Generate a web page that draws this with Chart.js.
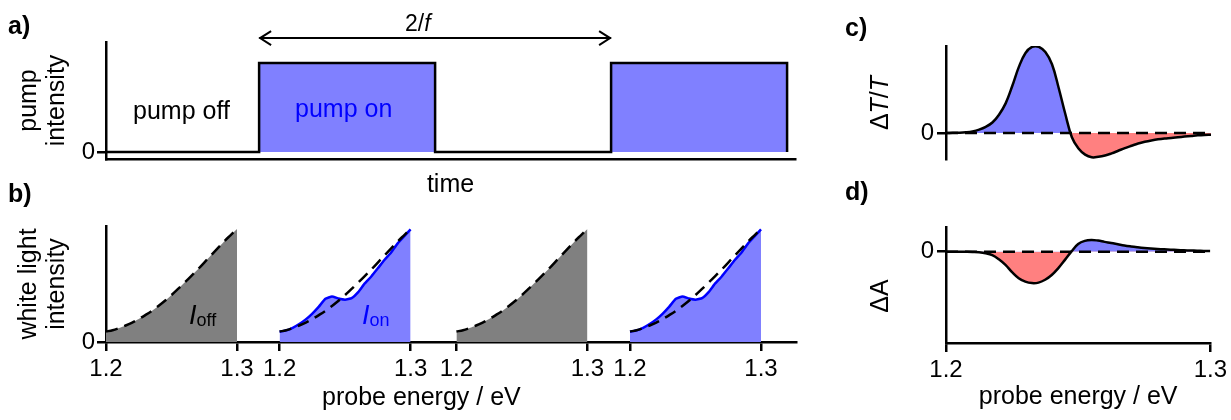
<!DOCTYPE html>
<html>
<head>
<meta charset="utf-8">
<script src="https://cdn.jsdelivr.net/npm/chart.js@4.4.1/dist/chart.umd.min.js"></script>
<style>
  html, body { margin: 0; padding: 0; background: #fff; }
  #fig { position: relative; width: 1231px; height: 420px; overflow: hidden;
         font-family: 'Liberation Sans', Arial, sans-serif; }
  canvas { position: absolute; }
  .t { position: absolute; font-size: 25px; line-height: 25px; white-space: nowrap; color: #000; }
  .lbl { font-weight: bold; font-size: 25px; line-height: 25px; }
  .sub { font-style: normal; font-size: 18px; vertical-align: -2px; }
  .rot { transform: translate(-50%, -50%) rotate(-90deg); }
</style>
</head>
<body>
<div id="fig">
  <canvas id="pump" width="830" height="200" style="left:0;top:0"></canvas>
  <canvas id="white" width="830" height="220" style="left:0;top:200px"></canvas>
  <canvas id="dtt" width="401" height="200" style="left:830px;top:0"></canvas>
  <canvas id="dabs" width="401" height="220" style="left:830px;top:200px"></canvas>

  <div class="t lbl" style="left:8px;top:13px">a)</div>
  <div class="t lbl" style="left:8px;top:181px">b)</div>
  <div class="t lbl" style="left:845px;top:15px">c)</div>
  <div class="t lbl" style="left:845px;top:179px">d)</div>

  <div class="t" style="left:133px;top:98px">pump off</div>
  <div class="t" style="left:295px;top:96px;color:#0000ff">pump on</div>
  <div class="t" style="left:405px;top:12px;font-size:23px;line-height:23px">2/<i>f</i></div>

  <div class="t" style="left:189px;top:302px;font-size:27px;line-height:27px"><i>I</i><span class="sub">off</span></div>
  <div class="t" style="left:362px;top:302px;font-size:27px;line-height:27px;color:#0000ff"><i>I</i><span class="sub">on</span></div>
  <div class="t" style="left:322px;top:384px">probe energy / eV</div>

  <div class="t rot" style="left:879px;top:103px">&Delta;<i>T</i>/<i>T</i></div>
  <div class="t rot" style="left:879px;top:296px">&Delta;A</div>
</div>
<script>
// a) pump pulse train, time in units of 1/f
const pulseTime = [0, 0.87, 1.87, 2.87, 3.87];
const pulseLevel = [0, 1, 0, 1, 0];

// b) white light spectra (arb. units) vs probe energy / eV
const energyCoarse = [1.200, 1.205, 1.210, 1.215, 1.220, 1.225, 1.230, 1.235, 1.240, 1.245, 1.250,
                      1.255, 1.260, 1.265, 1.270, 1.275, 1.280, 1.285, 1.290, 1.295, 1.300];
const intensityOff = [0.090, 0.102, 0.120, 0.142, 0.168, 0.198, 0.232, 0.268, 0.310, 0.355, 0.405,
                      0.458, 0.512, 0.568, 0.625, 0.685, 0.745, 0.805, 0.865, 0.920, 0.975];
const intensityOn = [0.089, 0.100, 0.122, 0.155, 0.195, 0.245, 0.305, 0.372, 0.392, 0.375, 0.365,
                     0.378, 0.430, 0.505, 0.565, 0.635, 0.707, 0.770, 0.848, 0.910, 0.970];
const tickLabels = ['1.2', '1.3'];

// c) and d) differential signals
const energyFine = [1.2000, 1.2025, 1.2050, 1.2075, 1.2100, 1.2125, 1.2150, 1.2175, 1.2200, 1.2225,
                    1.2250, 1.2275, 1.2300, 1.2325, 1.2350, 1.2375, 1.2400, 1.2425, 1.2450, 1.2475,
                    1.2500, 1.2525, 1.2550, 1.2575, 1.2600, 1.2625, 1.2650, 1.2675, 1.2700, 1.2725,
                    1.2750, 1.2775, 1.2800, 1.2825, 1.2850, 1.2875, 1.2900, 1.2925, 1.2950, 1.2975, 1.3000];
const dTT = [0.000, 0.001, 0.003, 0.008, 0.018, 0.038, 0.070, 0.120, 0.210, 0.340,
             0.540, 0.760, 0.920, 0.990, 0.990, 0.930, 0.790, 0.520, 0.220, -0.050,
             -0.180, -0.250, -0.280, -0.275, -0.260, -0.235, -0.205, -0.175, -0.148, -0.122,
             -0.102, -0.086, -0.073, -0.064, -0.058, -0.050, -0.042, -0.035, -0.028, -0.023, -0.020];
const dAbs = [0.000, 0.000, -0.002, -0.005, -0.010, -0.020, -0.050, -0.110, -0.240, -0.420,
              -0.650, -0.840, -0.950, -0.995, -0.980, -0.890, -0.740, -0.520, -0.260, 0.010,
              0.240, 0.340, 0.370, 0.350, 0.310, 0.275, 0.235, 0.195, 0.165, 0.140,
              0.118, 0.100, 0.085, 0.073, 0.062, 0.052, 0.043, 0.036, 0.030, 0.024, 0.020];
const baseEnergy = [1.2, 1.3];
const baseLevel = [0, 0];

// layout: horizontal shift of the four spectra in panel b
const segmentShift = [0, 0.1325, 0.2675, 0.4];

const BLUE_FILL = 'rgb(128,128,255)';
const RED_FILL = 'rgb(255,128,128)';
const GRAY_FILL = 'rgb(128,128,128)';
const BLUE = 'rgb(0,0,255)';
const LW = 2.5;
const DASH = [12, 7];

Chart.defaults.font.family = "'Liberation Sans', Arial, sans-serif";
Chart.defaults.color = '#000';
Chart.defaults.animation = false;
Chart.defaults.responsive = false;
Chart.defaults.devicePixelRatio = 1;
Chart.defaults.plugins.legend.display = false;
Chart.defaults.plugins.tooltip.enabled = false;
Chart.defaults.elements.point.radius = 0;

const pts = (xs, ys, shift = 0) => xs.map((x, i) => ({ x: x + shift, y: ys[i] }));

function scaleOpts(o) {
  const s = {
    type: 'linear',
    display: o.display !== false,
    min: o.min,
    max: o.max,
    border: { display: true, color: '#000', width: LW },
    grid: { display: !!o.at, drawOnChartArea: false, tickLength: 9, color: '#000', lineWidth: LW },
    ticks: { display: !!o.at, autoSkip: false, maxRotation: 0, padding: o.pad || 2, font: { size: 24 } },
    title: o.title || { display: false },
    afterFit: sc => {
      if (o.width) sc.width = o.width;
      if (o.height) sc.height = o.height;
    }
  };
  if (o.at) {
    s.afterBuildTicks = sc => { sc.ticks = o.at.map(v => ({ value: v })); };
    s.ticks.callback = o.label;
  }
  return s;
}

const yTitle = lines => ({
  display: true, text: lines, font: { size: 25, lineHeight: 1.12 }, padding: { top: 15, bottom: 0 }
});

// double-headed arrow marking one pump period (2/f)
const periodArrow = {
  id: 'periodArrow',
  afterDatasetsDraw(chart) {
    const { ctx, scales: { x, y } } = chart;
    const x0 = x.getPixelForValue(pulseTime[1]);
    const x1 = x.getPixelForValue(pulseTime[3]);
    const yy = y.getPixelForValue(1.28);
    ctx.save();
    ctx.strokeStyle = '#000';
    ctx.lineWidth = 2;
    ctx.beginPath();
    ctx.moveTo(x0, yy); ctx.lineTo(x1, yy);
    ctx.moveTo(x0 + 12, yy - 7); ctx.lineTo(x0 + 1, yy); ctx.lineTo(x0 + 12, yy + 7);
    ctx.moveTo(x1 - 12, yy - 7); ctx.lineTo(x1 - 1, yy); ctx.lineTo(x1 - 12, yy + 7);
    ctx.stroke();
    ctx.restore();
  }
};

// a)
new Chart(document.getElementById('pump'), {
  type: 'line',
  data: {
    datasets: [{
      data: pts(pulseTime, pulseLevel),
      stepped: 'before',
      borderColor: '#000', borderWidth: LW, borderJoinStyle: 'miter',
      fill: 'origin', backgroundColor: BLUE_FILL
    }]
  },
  options: {
    layout: { padding: { left: 0, top: 42, right: 35, bottom: 0 } },
    plugins: { filler: { drawTime: 'beforeDatasetsDraw' } },
    scales: {
      x: scaleOpts({ min: 0, max: 3.915, height: 41,
        title: { display: true, text: 'time', font: { size: 25 }, padding: { top: 0, bottom: 0 } } }),
      y: scaleOpts({ min: -0.079, max: 1.236, at: [0], label: () => '0', width: 106,
        title: yTitle(['pump', 'intensity']) })
    }
  },
  plugins: [periodArrow]
});

// b)
const whiteSets = [];
segmentShift.forEach((s, k) => {
  const pumped = k % 2 === 1;
  whiteSets.push({
    data: pts(energyCoarse, intensityOff, s),
    borderColor: '#000', borderWidth: LW, borderDash: DASH, tension: 0.3,
    fill: pumped ? false : 'origin', backgroundColor: GRAY_FILL
  });
  if (pumped) {
    whiteSets.push({
      data: pts(energyCoarse, intensityOn, s),
      borderColor: BLUE, borderWidth: LW, tension: 0.1,
      fill: 'origin', backgroundColor: BLUE_FILL
    });
  }
});
new Chart(document.getElementById('white'), {
  type: 'line',
  data: { datasets: whiteSets },
  options: {
    layout: { padding: { left: 0, top: 26, right: 34, bottom: 0 } },
    plugins: { filler: { drawTime: 'beforeDatasetsDraw' } },
    scales: {
      x: scaleOpts({ min: 1.2, max: 1.7267, height: 78, pad: 4,
        at: segmentShift.flatMap(s => [1.2 + s, 1.3 + s]),
        label: (v, i) => tickLabels[i % 2] }),
      y: scaleOpts({ min: 0, max: 1, at: [0], label: () => '0', width: 106,
        title: yTitle(['white light', 'intensity']) })
    }
  }
});

// c)
new Chart(document.getElementById('dtt'), {
  type: 'line',
  data: {
    datasets: [
      { data: pts(energyFine, dTT), borderColor: '#000', borderWidth: LW, tension: 0.4,
        fill: { target: 'origin', above: BLUE_FILL, below: RED_FILL } },
      { data: pts(baseEnergy, baseLevel), borderColor: '#000', borderWidth: LW, borderDash: DASH }
    ]
  },
  options: {
    layout: { padding: { left: 0, top: 46, right: 20, bottom: 41 } },
    plugins: { filler: { drawTime: 'beforeDatasetsDraw' } },
    scales: {
      x: scaleOpts({ display: false, min: 1.2, max: 1.3 }),
      y: scaleOpts({ min: -0.3, max: 1.0, at: [0], label: () => '0', width: 116, pad: 3 })
    }
  }
});

// d)
new Chart(document.getElementById('dabs'), {
  type: 'line',
  data: {
    datasets: [
      { data: pts(energyFine, dAbs), borderColor: '#000', borderWidth: LW, tension: 0.4,
        fill: { target: 'origin', above: BLUE_FILL, below: RED_FILL } },
      { data: pts(baseEnergy, baseLevel), borderColor: '#000', borderWidth: LW, borderDash: DASH }
    ]
  },
  options: {
    layout: { padding: { left: 0, top: 27, right: 20, bottom: 0 } },
    plugins: { filler: { drawTime: 'beforeDatasetsDraw' } },
    scales: {
      x: scaleOpts({ min: 1.2, max: 1.3, height: 77, pad: 4, at: [1.2, 1.3],
        label: (v, i) => tickLabels[i],
        title: { display: true, text: 'probe energy / eV', font: { size: 25 }, padding: { top: 0, bottom: 8 } } }),
      y: scaleOpts({ min: -2.89, max: 0.78, at: [0], label: () => '0', width: 116, pad: 3 })
    }
  }
});
</script>
</body>
</html>
